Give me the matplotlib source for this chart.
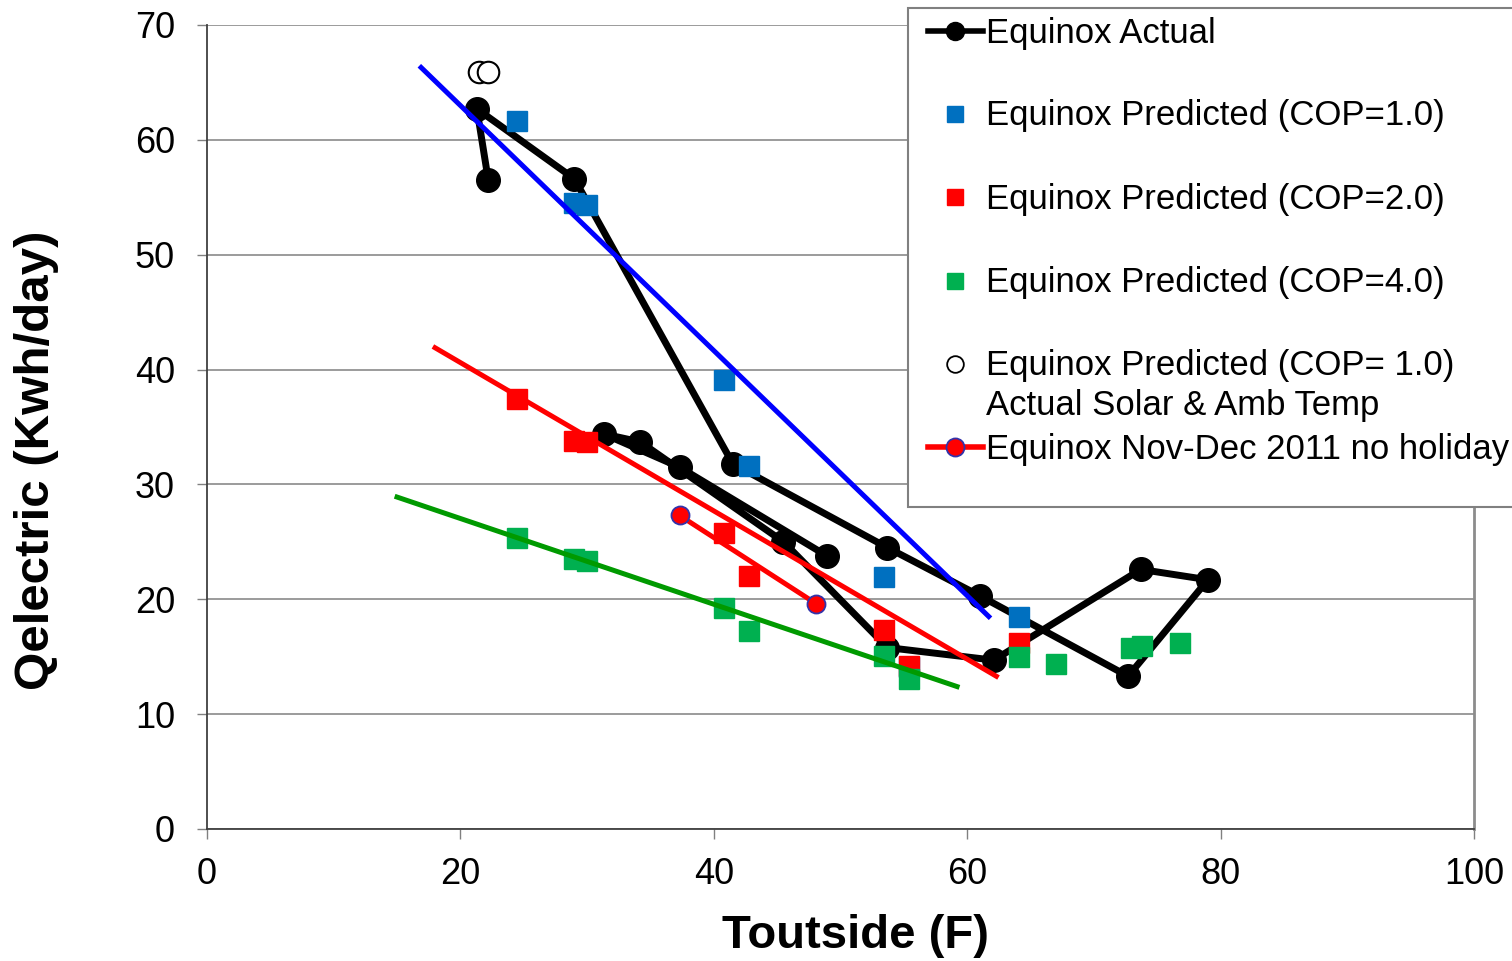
import matplotlib
matplotlib.use("Agg")
import matplotlib.pyplot as plt
from matplotlib.lines import Line2D
from matplotlib.patches import Rectangle

plt.rcParams['font.family'] = ['Liberation Sans', 'DejaVu Sans']

# Equinox actual (drawn as a connected path)
actual_x = [22.2, 21.3, 29.0, 41.5, 53.7, 61.0, 72.7, 79.0, 73.7, 62.1, 53.7, 45.5, 34.2, 31.3, 37.3, 48.9]
actual_y = [56.5, 62.7, 56.6, 31.8, 24.5, 20.3, 13.3, 21.7, 22.6, 14.7, 15.8, 25.0, 33.7, 34.4, 31.5, 23.8]

# predicted, COP = 1, 2, 4
cop1_x = [24.5, 29.0, 30.0, 40.8, 42.8, 53.4, 55.4, 64.1]
cop1_y = [61.6, 54.5, 54.3, 39.1, 31.6, 21.9, 14.1, 18.5]
cop2_x = [24.5, 29.0, 30.0, 40.8, 42.8, 53.4, 55.4, 64.1]
cop2_y = [37.4, 33.8, 33.7, 25.8, 22.0, 17.3, 14.2, 16.2]
cop4_x = [24.5, 29.0, 30.0, 40.8, 42.8, 53.4, 55.4, 64.1, 67.0, 72.9, 73.8, 76.8]
cop4_y = [25.3, 23.5, 23.3, 19.2, 17.2, 15.1, 13.1, 15.0, 14.4, 15.8, 15.9, 16.2]

# predicted COP=1 with actual solar & ambient temperature
solar_x = [21.5, 22.2]
solar_y = [65.9, 65.9]

# Nov-Dec 2011 no holiday
novdec_x = [37.3, 48.1]
novdec_y = [27.3, 19.6]

# linear trendlines (end points)
trend1_x = [16.9, 61.7]
trend1_y = [66.3, 18.5]
trend2_x = [18.0, 62.3]
trend2_y = [41.9, 13.3]
trend4_x = [15.0, 59.2]
trend4_y = [28.9, 12.4]

W, H = 1512, 961
fig = plt.figure(figsize=(W / 100, H / 100), dpi=100)
ax = fig.add_axes([207 / W, 132 / H, 1267 / W, 804 / H])

BLUE, RED, GREEN = '#0070C0', '#FF0000', '#00B050'

ax.plot(actual_x, actual_y, color='black', lw=5, marker='o', ms=17,
        solid_joinstyle='round', zorder=3)
ax.plot(cop1_x, cop1_y, ls='none', marker='s', ms=15, color=BLUE, zorder=4)
ax.plot(cop2_x, cop2_y, ls='none', marker='s', ms=15, color=RED, zorder=5)
ax.plot(cop4_x, cop4_y, ls='none', marker='s', ms=15, color=GREEN, zorder=6)
ax.plot(solar_x, solar_y, ls='none', marker='o', ms=15.5, mfc='white',
        mec='black', mew=1.5, zorder=6)
ax.plot(trend1_x, trend1_y, color='#0000FF', lw=3.6, zorder=7)
ax.plot(trend2_x, trend2_y, color='#FF0000', lw=3.6, zorder=7)
ax.plot(trend4_x, trend4_y, color='#009A00', lw=3.6, zorder=7)
ax.plot(novdec_x, novdec_y, color='#FF0000', lw=3.6, marker='o', ms=13,
        mfc='#FF0000', mec='#3333AA', mew=1.3, zorder=8)

ax.set_xlim(0, 100)
ax.set_ylim(0, 70)
ax.set_xticks(range(0, 101, 20))
ax.set_yticks(range(0, 71, 10))
ax.yaxis.grid(True, color='#808080', lw=1.1)
ax.set_axisbelow(True)
ax.spines['top'].set_visible(False)
ax.spines['right'].set_color('#8c8c8c')
ax.spines['right'].set_linewidth(2)
ax.spines['left'].set_color('#404040')
ax.spines['bottom'].set_color('#404040')
ax.spines['left'].set_linewidth(1.3)
ax.spines['bottom'].set_linewidth(1.3)
ax.tick_params(axis='both', direction='out', length=7, width=1,
               color='#808080', labelsize=26)
ax.tick_params(axis='x', pad=13)
ax.tick_params(axis='y', pad=16)

fig.text(856 / W, 1 - 936 / H, 'Toutside (F)', fontsize=34, fontweight='bold',
         ha='center', va='center')
fig.text(37 / W, 1 - 460 / H, 'Qelectric (Kwh/day)', fontsize=35.5,
         fontweight='bold', rotation=90, ha='center', va='center')

# legend box, drawn in figure pixels
def fx(x):
    return x / W

def fy(y):
    return 1 - y / H

fig.patches.append(Rectangle((fx(908), fy(507)), fx(1540) - fx(908), fy(8) - fy(507),
                             transform=fig.transFigure, facecolor='white',
                             edgecolor='#808080', lw=1.5, zorder=20))

rows = [31, 114, 197, 281, 364, 447]
labels = ['Equinox Actual', 'Equinox Predicted (COP=1.0)', 'Equinox Predicted (COP=2.0)',
          'Equinox Predicted (COP=4.0)', 'Equinox Predicted (COP= 1.0)',
          'Equinox Nov-Dec 2011 no holiday']
handles = [
    dict(color='black', lw=4, marker='o', ms=13),
    dict(ls='none', marker='s', ms=12, color=BLUE),
    dict(ls='none', marker='s', ms=12, color=RED),
    dict(ls='none', marker='s', ms=12, color=GREEN),
    dict(ls='none', marker='o', ms=12, mfc='white', mec='black', mew=1.3),
    dict(color='#FF0000', lw=4, marker='o', ms=13, mfc='#FF0000', mec='#3333AA', mew=1.3),
]
for y, lab, h in zip(rows, labels, handles):
    fig.lines.append(Line2D([fx(928), fx(983)], [fy(y), fy(y)],
                            transform=fig.transFigure, markevery=[], zorder=21, **h))
    fig.lines.append(Line2D([fx(955)], [fy(y)], transform=fig.transFigure,
                            zorder=22, **{k: v for k, v in h.items() if k not in ('lw', 'ls')},
                            ls='none'))
    fig.text(fx(986), fy(y + 2), lab, fontsize=25, va='center', ha='left', zorder=23)
fig.text(fx(986), fy(405), 'Actual Solar & Amb Temp', fontsize=25, va='center',
         ha='left', zorder=23)

fig.savefig('out.png', dpi=100)
